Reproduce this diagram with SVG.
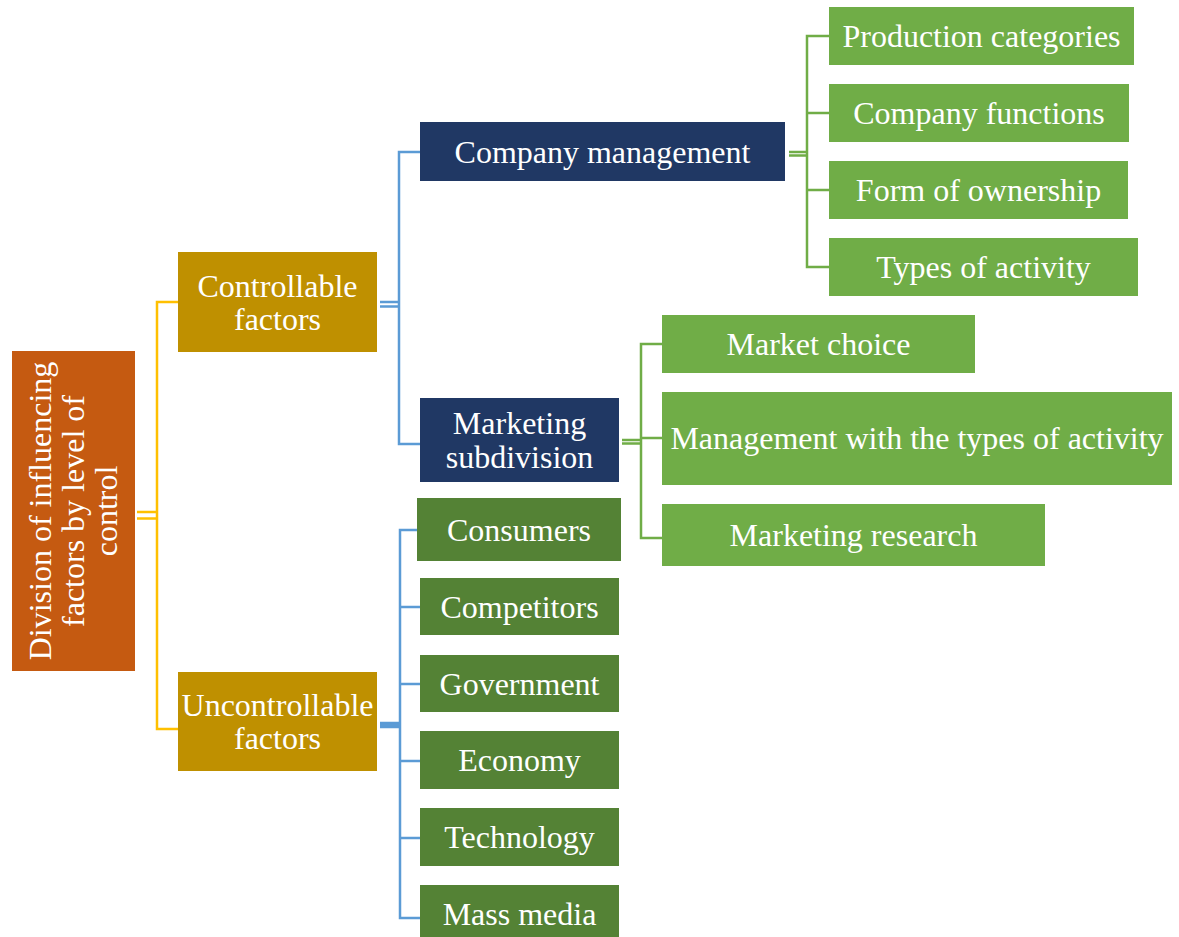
<svg xmlns="http://www.w3.org/2000/svg" width="1179" height="937" viewBox="0 0 1179 937">
  <style>
    .lbl { font-family: "Liberation Serif", "Times New Roman", serif; font-size: 32px; fill: #ffffff; text-anchor: middle; dominant-baseline: central; }
    .root { fill: #C55A11; }
    .gold { fill: #BF9000; }
    .navy { fill: #203864; }
    .dark { fill: #548235; }
    .lite { fill: #70AD47; }
    .c-y { stroke: #FFC000; stroke-width: 2.5; fill: none; }
    .c-b { stroke: #5B9BD5; stroke-width: 2.5; fill: none; }
    .c-g { stroke: #70AD47; stroke-width: 2.5; fill: none; }
  </style>
  <rect width="1179" height="937" fill="#ffffff"/>

  <!-- connectors -->
  <g id="connectors">
    <!-- root to level 1 -->
    <path class="c-y" d="M137 512H157M137 518.5H157M178 302H157V729H178"/>
    <!-- controllable -->
    <path class="c-b" d="M380 302H399M380 306.5H399M420 152H399V444H420"/>
    <!-- uncontrollable: doubled stem drawn close enough to read as one bar -->
    <path class="c-b" d="M380 723H400M380 727H400" stroke-width="3"/>
    <path class="c-b" d="M380 725H400" stroke-width="3"/>
    <path class="c-b" d="M420 530H400V918H420M400 607H420M400 684H420M400 761H420M400 838H420"/>
    <!-- company management -->
    <path class="c-g" d="M789 152H807M789 155.5H807M829 36H807V267H829M807 113H829M807 190H829"/>
    <!-- marketing subdivision -->
    <path class="c-g" d="M622 440H641M622 443.5H641M662 344H641V538H662M641 438H662"/>
  </g>

  <g id="root">
    <rect class="root" x="12" y="351" width="123" height="320"/>
    <g transform="translate(73 511) rotate(-90)">
      <text class="lbl" x="0" y="-33">Division of influencing</text>
      <text class="lbl" x="0" y="0">factors by level of</text>
      <text class="lbl" x="0" y="33">control</text>
    </g>
  </g>

  <g id="controllable">
    <rect class="gold" x="178" y="252" width="199" height="100"/>
    <text class="lbl" x="277.5" y="286">Controllable</text>
    <text class="lbl" x="277.5" y="319">factors</text>
  </g>

  <g id="uncontrollable">
    <rect class="gold" x="178" y="672" width="199" height="99"/>
    <text class="lbl" x="277.5" y="705">Uncontrollable</text>
    <text class="lbl" x="277.5" y="738">factors</text>
  </g>

  <g id="company-management">
    <rect class="navy" x="420" y="122" width="365" height="59"/>
    <text class="lbl" x="602.5" y="152">Company management</text>
  </g>

  <g id="marketing-subdivision">
    <rect class="navy" x="420" y="398" width="199" height="84"/>
    <text class="lbl" x="519.5" y="423">Marketing</text>
    <text class="lbl" x="519.5" y="457">subdivision</text>
  </g>

  <g id="production-categories">
    <rect class="lite" x="829" y="7" width="305" height="58"/>
    <text class="lbl" x="981.5" y="36">Production categories</text>
  </g>
  <g id="company-functions">
    <rect class="lite" x="829" y="84" width="300" height="58"/>
    <text class="lbl" x="979" y="113">Company functions</text>
  </g>
  <g id="form-of-ownership">
    <rect class="lite" x="829" y="161" width="299" height="58"/>
    <text class="lbl" x="978.5" y="190">Form of ownership</text>
  </g>
  <g id="types-of-activity">
    <rect class="lite" x="829" y="238" width="309" height="58"/>
    <text class="lbl" x="983.5" y="267">Types of activity</text>
  </g>

  <g id="market-choice">
    <rect class="lite" x="662" y="315" width="313" height="58"/>
    <text class="lbl" x="818.5" y="344">Market choice</text>
  </g>
  <g id="management-types">
    <rect class="lite" x="662" y="392" width="510" height="93"/>
    <text class="lbl" x="917" y="438">Management with the types of activity</text>
  </g>
  <g id="marketing-research">
    <rect class="lite" x="662" y="504" width="383" height="62"/>
    <text class="lbl" x="853.5" y="535">Marketing research</text>
  </g>

  <g id="consumers">
    <rect class="dark" x="417" y="498" width="204" height="63"/>
    <text class="lbl" x="519" y="530">Consumers</text>
  </g>
  <g id="competitors">
    <rect class="dark" x="420" y="578" width="199" height="57"/>
    <text class="lbl" x="519.5" y="607">Competitors</text>
  </g>
  <g id="government">
    <rect class="dark" x="420" y="655" width="199" height="57"/>
    <text class="lbl" x="519.5" y="684">Government</text>
  </g>
  <g id="economy">
    <rect class="dark" x="420" y="731" width="199" height="58"/>
    <text class="lbl" x="519.5" y="760">Economy</text>
  </g>
  <g id="technology">
    <rect class="dark" x="420" y="808" width="199" height="58"/>
    <text class="lbl" x="519.5" y="837">Technology</text>
  </g>
  <g id="mass-media">
    <rect class="dark" x="420" y="885" width="199" height="58"/>
    <text class="lbl" x="519.5" y="914">Mass media</text>
  </g>
</svg>
